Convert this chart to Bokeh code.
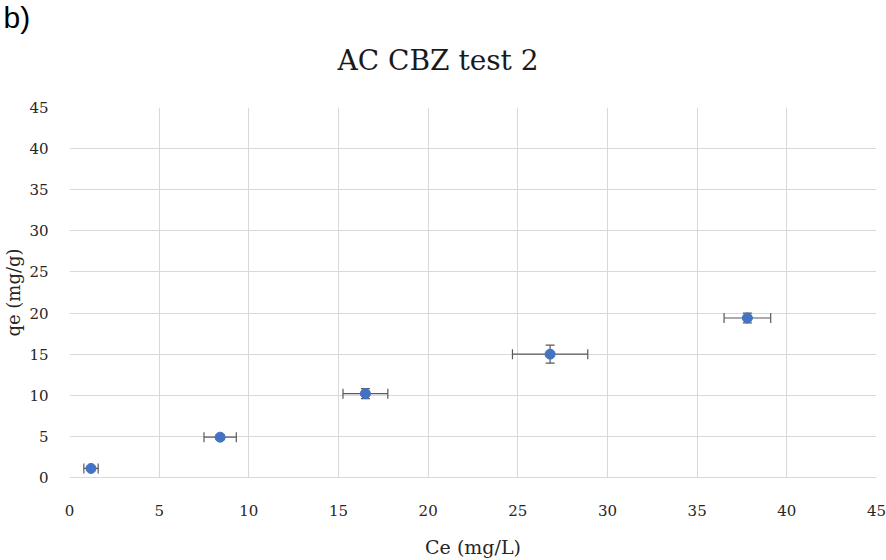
from bokeh.plotting import figure
from bokeh.models import ColumnDataSource, Whisker, TeeHead, Title, SingleIntervalTicker, Range1d
from bokeh.embed import file_html
from bokeh.resources import INLINE

# ---- data ----
ce = [1.2, 8.4, 16.5, 26.8, 37.8]        # Ce (mg/L)
qe = [1.1, 4.9, 10.2, 15.0, 19.4]        # qe (mg/g)
ce_err = [0.4, 0.9, 1.25, 2.1, 1.3]      # x error
qe_err = [0.2, 0.3, 0.6, 1.1, 0.6]       # y error

title_text = "AC CBZ test 2"
panel_text = "b)"
x_label = "Ce (mg/L)"
y_label = "qe (mg/g)"

src = ColumnDataSource(dict(
    x=ce, y=qe,
    xl=[a - e for a, e in zip(ce, ce_err)], xu=[a + e for a, e in zip(ce, ce_err)],
    yl=[a - e for a, e in zip(qe, qe_err)], yu=[a + e for a, e in zip(qe, qe_err)],
))

SERIF = "DejaVu Serif"
GRID = "#d9d9d9"
TXT = "#262626"

p = figure(width=886, height=560, output_backend="svg", toolbar_location=None,
           x_range=Range1d(0, 45), y_range=Range1d(0, 45),
           min_border_left=69, min_border_right=10, min_border_top=107, min_border_bottom=83)
p.outline_line_color = None
p.background_fill_color = "white"
p.border_fill_color = "white"

for ax in (p.xaxis[0], p.yaxis[0]):
    ax.ticker = SingleIntervalTicker(interval=5)
    ax.major_tick_line_color = None
    ax.minor_tick_line_color = None
    ax.major_tick_out = 0
    ax.major_tick_in = 0
    ax.major_label_text_font = SERIF
    ax.major_label_text_font_size = "15px"
    ax.major_label_text_color = TXT
    ax.axis_label_text_font = SERIF
    ax.axis_label_text_font_style = "normal"
    ax.axis_label_text_color = TXT
p.xaxis.axis_line_color = GRID
p.yaxis.axis_line_color = None
p.xaxis.major_label_standoff = 23
p.yaxis.major_label_standoff = 17
p.xaxis.axis_label = x_label
p.yaxis.axis_label = y_label
p.xaxis.axis_label_text_font_size = "19px"
p.yaxis.axis_label_text_font_size = "18px"
p.xaxis.axis_label_standoff = 17
p.yaxis.axis_label_standoff = 2

p.xgrid.ticker = SingleIntervalTicker(interval=5)
p.ygrid.ticker = SingleIntervalTicker(interval=5)
p.xgrid.grid_line_color = GRID
p.ygrid.grid_line_color = GRID

# error bars
ECOL = "#595959"
wy = Whisker(source=src, base="x", lower="yl", upper="yu", dimension="height",
             line_color=ECOL, line_width=1.2,
             upper_head=TeeHead(size=9, line_color=ECOL, line_width=1.2),
             lower_head=TeeHead(size=9, line_color=ECOL, line_width=1.2),
             level="underlay")
wx = Whisker(source=src, base="y", lower="xl", upper="xu", dimension="width",
             line_color=ECOL, line_width=1.2,
             upper_head=TeeHead(size=10, line_color=ECOL, line_width=1.2),
             lower_head=TeeHead(size=10, line_color=ECOL, line_width=1.2),
             level="underlay")
p.add_layout(wy)
p.add_layout(wx)

p.scatter("x", "y", source=src, size=10, color="#4472C4", line_color="#4472C4")

# panel letter (outermost title) and chart title (closest to the frame)
p.title.text = panel_text
p.title.align = "left"
p.title.offset = -66
p.title.text_font = "Liberation Sans"
p.title.text_font_size = "30px"
p.title.text_font_style = "normal"
p.title.text_color = "#000000"
p.title.standoff = -46

p.add_layout(Title(text=title_text, align="left", offset=268, text_font=SERIF,
                   text_font_size="28px", text_font_style="normal", text_color="#1a1a1a",
                   standoff=62), "above")

open("out.html", "w").write(file_html(p, INLINE))
